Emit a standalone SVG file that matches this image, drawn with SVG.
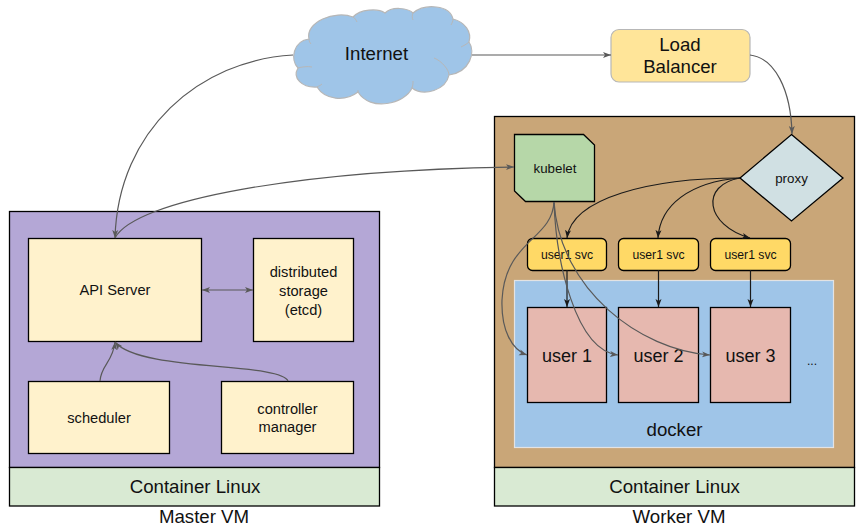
<svg xmlns="http://www.w3.org/2000/svg" width="863" height="532" viewBox="0 0 863 532">
<style>
text{font-family:"Liberation Sans",Arial,sans-serif;fill:#111;text-anchor:middle}
.b{stroke:#000;stroke-width:1.3}
.cream{fill:#fff2cc}.pink{fill:#e6b8af}.svc{fill:#ffd966}.green{fill:#d9ead3}
.c{fill:none;stroke:#595959;stroke-width:1.2}
.k{fill:none;stroke:#1a1a1a;stroke-width:1.2}
.s13{font-size:14.67px}.s11{font-size:13.33px}.s12{font-size:12.2px}.s18{font-size:18px}.s17{font-size:18.67px}
</style>
<defs>
<marker id="ag" markerUnits="userSpaceOnUse" markerWidth="9" markerHeight="8" refX="8" refY="4" orient="auto"><path d="M0 1 L8 4 L0 7 L2 4Z" fill="#595959"/></marker>
<marker id="ak" markerUnits="userSpaceOnUse" markerWidth="9" markerHeight="8" refX="8" refY="4" orient="auto"><path d="M0 1 L8 4 L0 7 L2 4Z" fill="#1a1a1a"/></marker>
<marker id="sg" markerUnits="userSpaceOnUse" markerWidth="9" markerHeight="8" refX="0" refY="4" orient="auto"><path d="M8 1 L0 4 L8 7 L6 4Z" fill="#595959"/></marker>
</defs>
<g id="master-vm">
<rect class="b" x="9.5" y="211.5" width="370" height="256" fill="#b4a7d6"/>
<rect class="b green" x="9.5" y="467.5" width="370" height="38.5"/>
<text class="s17" x="195" y="493">Container Linux</text>
<text class="s17" x="204" y="523">Master VM</text>
</g>
<g id="worker-vm">
<rect class="b" x="494.5" y="116.5" width="360" height="351" fill="#c9a678"/>
<rect class="b green" x="494.5" y="467.5" width="360" height="38.5"/>
<text class="s17" x="674.5" y="493">Container Linux</text>
<text class="s17" x="679" y="523">Worker VM</text>
</g>
<g id="docker">
<rect x="514.5" y="280.5" width="319" height="167" fill="#9fc5e8" stroke="#e3e3e3" stroke-width="1.2"/>
<text class="s17" x="674.5" y="436">docker</text>
<text class="s12" x="812" y="365">...</text>
</g>
<g id="api-server"><rect class="b cream" x="28.5" y="238.5" width="173" height="103"/><text class="s13" x="115" y="295">API Server</text></g>
<g id="etcd"><rect class="b cream" x="253.5" y="238.5" width="100" height="103"/><text class="s13" x="303.500" y="277">distributed</text><text class="s13" x="303.500" y="296">storage</text><text class="s13" x="303.500" y="315">(etcd)</text></g>
<g id="scheduler"><rect class="b cream" x="28.5" y="381.5" width="141" height="72"/><text class="s13" x="99" y="423">scheduler</text></g>
<g id="controller-manager"><rect class="b cream" x="221.5" y="381.5" width="132" height="72"/><text class="s13" x="287.500" y="414">controller</text><text class="s13" x="287.500" y="432">manager</text></g>
<g id="internet">
<path d="M298 68C290 60 293 41 309 39C305 22 335 10 353 17C360 9 378 8 385 13C392 6 408 8 413 13C425 3 450 5 453 19C465 22 472 32 469 42C476 52 470 72 449 75C446 90 424 97 412 88C405 104 370 112 358 92C345 102 325 100 317 87C302 88 292 78 298 68Z" fill="#9fc5e8" stroke="#b7b7b7" stroke-width="1.2"/>
<path d="M298 68C301 67 308 66 312 67M309 39C309 41 310 43 311 44M353 17C355 18 356 20 357 22M413 13C412 15 412 18 413 20M453 19C453 21 452 23 451 25M469 42C467 44 463 46 461 47M449 75C449 70 442 61 434 58M412 88C413 85 413 83 413 81M358 92C358 91 358 91 358 90M317 87C319 86 321 85 322 84" fill="none" stroke="#b7b7b7" stroke-width="1"/>
<text class="s17" x="376.500" y="60">Internet</text>
</g>
<g id="load-balancer">
<rect x="611" y="29.500" width="139" height="52.500" rx="8" fill="#ffe599" stroke="#b7b7b7" stroke-width="1.2"/>
<text class="s17" x="680" y="51">Load</text><text class="s17" x="680" y="73">Balancer</text>
</g>
<g id="kubelet"><path class="b" d="M514.500 134.500H583.500L594.500 145V201.500H525.500L514.500 191Z" fill="#b6d7a8"/><text class="s11" x="555" y="173">kubelet</text></g>
<g id="proxy"><path class="b" d="M791.500 134.500L843 178L791.500 221L740 178Z" fill="#d0e0e3"/><text class="s11" x="791.500" y="183">proxy</text></g>
<g id="svc-1"><rect class="b svc" x="527.500" y="238.500" width="79" height="32" rx="5"/><text class="s12" x="567" y="259">user1 svc</text></g>
<g id="svc-2"><rect class="b svc" x="618.500" y="238.500" width="80" height="32" rx="5"/><text class="s12" x="658.500" y="259">user1 svc</text></g>
<g id="svc-3"><rect class="b svc" x="710.500" y="238.500" width="80" height="32" rx="5"/><text class="s12" x="750.500" y="259">user1 svc</text></g>
<g id="user-1"><rect class="b pink" x="527.500" y="307.500" width="79" height="95"/><text class="s18" x="567" y="362">user 1</text></g>
<g id="user-2"><rect class="b pink" x="618.500" y="307.500" width="80" height="95"/><text class="s18" x="658.500" y="362">user 2</text></g>
<g id="user-3"><rect class="b pink" x="710.500" y="307.500" width="80" height="95"/><text class="s18" x="750.500" y="362">user 3</text></g>
<g id="connectors">
<path class="c" marker-end="url(#ag)" d="M293 55C200 60 118 130 115 238"/>
<path class="c" marker-end="url(#ag)" d="M472 55H611"/>
<path class="c" marker-end="url(#ag)" d="M750 55C775 58 791 90 792 134"/>
<path class="c" marker-end="url(#ag)" d="M115 238C135 200 300 170 514 167"/>
<path class="c" marker-start="url(#sg)" marker-end="url(#ag)" d="M202 290H253"/>
<path class="c" marker-end="url(#ag)" d="M100 381C101 365 113 362 115 342"/>
<path class="c" marker-end="url(#ag)" d="M288 381C280 362 140 372 115 342"/>
<path class="k" marker-end="url(#ak)" d="M740 178C650 178 572 198 567 238"/>
<path class="k" marker-end="url(#ak)" d="M740 178C690 182 660 205 658 238"/>
<path class="k" marker-end="url(#ak)" d="M740 178C700 185 705 225 750 238"/>
<path class="k" marker-end="url(#ak)" d="M567 270V307"/>
<path class="k" marker-end="url(#ak)" d="M658.500 270V307"/>
<path class="k" marker-end="url(#ak)" d="M750.500 270V307"/>
<path class="c" marker-end="url(#ag)" d="M554 202C552 240 505 240 502 300C501 330 512 350 527 355"/>
<path class="c" marker-end="url(#ag)" d="M554 202C556 260 575 350 618 355"/>
<path class="c" marker-end="url(#ag)" d="M554 202C560 290 640 350 710 355"/>
</g>
</svg>
